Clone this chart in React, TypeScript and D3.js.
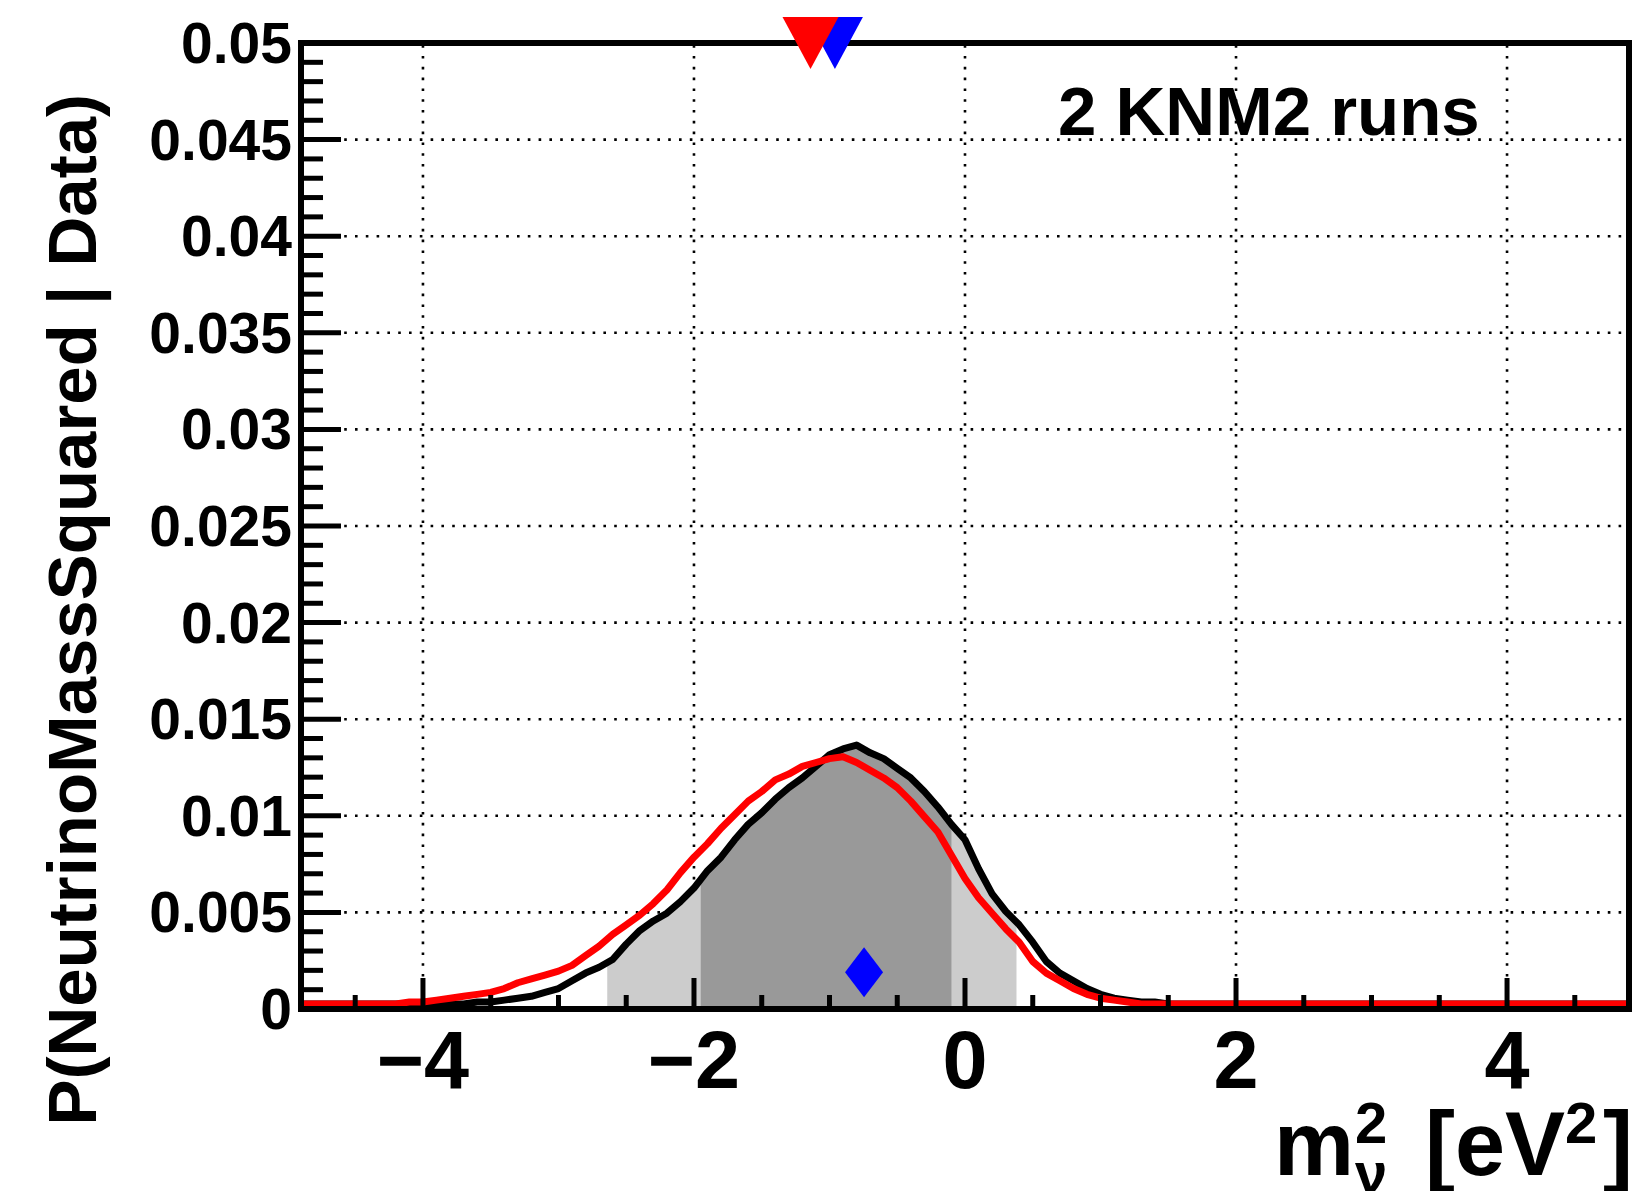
import React from "react";
import * as d3 from "d3";

const W = 1634;
const H = 1191;

// bin centres of m^2 (eV^2)
const mSquared = [
  -4.2, -4.1, -4.0, -3.9, -3.8, -3.7, -3.6, -3.5, -3.4, -3.3, -3.2, -3.1, -3.0, -2.9, -2.8, -2.7,
  -2.6, -2.5, -2.4, -2.3, -2.2, -2.1, -2.0, -1.9, -1.8, -1.7, -1.6, -1.5, -1.4, -1.3, -1.2, -1.1,
  -1.0, -0.9, -0.8, -0.7, -0.6, -0.5, -0.4, -0.3, -0.2, -0.1, 0.0, 0.1, 0.2, 0.3, 0.4, 0.5,
  0.6, 0.7, 0.8, 0.9, 1.0, 1.1, 1.2, 1.3, 1.4, 1.5,
];

// posterior (black histogram)
const blackPosterior = [
  0, 0, 0, 0, 0, 0, 0.0001, 0.0001, 0.0002, 0.0003, 0.0004, 0.0006, 0.0008, 0.0012, 0.0016, 0.0019,
  0.0023, 0.0031, 0.0038, 0.0043, 0.0047, 0.0053, 0.006, 0.0069, 0.0076, 0.0085, 0.0093, 0.0099, 0.0106, 0.0112, 0.0117, 0.0123,
  0.0129, 0.0132, 0.0134, 0.013, 0.0127, 0.0122, 0.0117, 0.011, 0.0102, 0.0093, 0.0085, 0.007, 0.0057, 0.0048, 0.0041, 0.0032,
  0.0022, 0.0016, 0.0012, 0.0008, 0.0005, 0.0003, 0.0002, 0.0001, 0.0001, 0,
];

// comparison posterior (red histogram)
const redPosterior = [
  0, 0.0001, 0.0001, 0.0002, 0.0003, 0.0004, 0.0005, 0.0006, 0.0008, 0.0011, 0.0013, 0.0015, 0.0017, 0.002, 0.0025, 0.003,
  0.0036, 0.0041, 0.0046, 0.0052, 0.0059, 0.0068, 0.0076, 0.0083, 0.0091, 0.0098, 0.0105, 0.011, 0.0116, 0.0119, 0.0123, 0.0125,
  0.0127, 0.0128, 0.0125, 0.0121, 0.0117, 0.0112, 0.0105, 0.0097, 0.0089, 0.0077, 0.0065, 0.0055, 0.0047, 0.0039, 0.0032, 0.0022,
  0.0016, 0.0012, 0.0008, 0.0005, 0.0003, 0.0002, 0.0001, 0, 0, 0,
];

// credible intervals of the black posterior
const interval2 = [-2.64, 0.38];
const interval1 = [-1.95, -0.1];

// markers
const diamondMarker = { x: -0.745, y: 0.0019 };
const topMarkers = [
  { x: -0.96, color: "#0000ff" },
  { x: -1.14, color: "#ff0000" },
];

const xDomain = [-4.9, 4.9];
const yDomain = [0, 0.05];
const xMajorTicks = [-4, -2, 0, 2, 4];
const xTickLabels = ["\u22124", "\u22122", "0", "2", "4"];
const yMajorTicks = [0, 0.005, 0.01, 0.015, 0.02, 0.025, 0.03, 0.035, 0.04, 0.045, 0.05];
const yTickLabels = ["0", "0.005", "0.01", "0.015", "0.02", "0.025", "0.03", "0.035", "0.04", "0.045", "0.05"];

const annotation = "2 KNM2 runs";
const yTitle = "P(NeutrinoMassSquared | Data)";

const FONT = "'Liberation Sans', Arial, Helvetica, sans-serif";

export default function App() {
  const left = 301, right = 1629, top = 43, bottom = 1009;
  const x = d3.scaleLinear().domain(xDomain).range([left, right]);
  const y = d3.scaleLinear().domain(yDomain).range([bottom, top]);
  const lineLift = 5; // thick ROOT histogram lines sit just above the axis

  const withEdges = (vals: number[]) => {
    const pts: [number, number][] = mSquared.map((m, i) => [m, vals[i]]);
    return [[xDomain[0], 0] as [number, number], ...pts, [xDomain[1], 0] as [number, number]];
  };
  const blackPts = withEdges(blackPosterior);
  const redPts = withEdges(redPosterior);

  const line = d3
    .line<[number, number]>()
    .x((d) => x(d[0]))
    .y((d) => y(d[1]) - lineLift);

  const interp = (pts: [number, number][], xv: number) => {
    const i = d3.bisector((d: [number, number]) => d[0]).left(pts, xv);
    if (i <= 0) return pts[0][1];
    if (i >= pts.length) return pts[pts.length - 1][1];
    const a = pts[i - 1], b = pts[i];
    const t = (xv - a[0]) / (b[0] - a[0]);
    return a[1] + t * (b[1] - a[1]);
  };

  const areaBetween = (lo: number, hi: number) => {
    const inner = blackPts.filter((p) => p[0] > lo && p[0] < hi);
    const pts: [number, number][] = [[lo, interp(blackPts, lo)], ...inner, [hi, interp(blackPts, hi)]];
    return d3
      .area<[number, number]>()
      .x((d) => x(d[0]))
      .y0(y(0))
      .y1((d) => y(d[1]) - lineLift)(pts) as string;
  };

  const xMinor = d3.range(-4.5, 4.9, 0.5).filter((v) => !xMajorTicks.some((m) => Math.abs(m - v) < 1e-6));
  const yMinor = d3.range(0, 0.05001, 0.001).filter((v) => !yMajorTicks.some((m) => Math.abs(m - v) < 1e-7));

  const dot = { stroke: "#000", strokeWidth: 2.6, strokeDasharray: "2.6 8.2", fill: "none" };

  const triW = 28, triH = 26;
  const diaW = 19, diaH = 25;

  return (
    <svg
      width={W}
      height={H}
      viewBox={`0 0 ${W} ${H}`}
      style={{ position: "absolute", left: 0, top: 0, background: "#fff" }}
      fontFamily={FONT}
      fontWeight="bold"
    >
      <rect x={0} y={0} width={W} height={H} fill="#fff" />

      {/* grid */}
      {xMajorTicks.map((t) => (
        <line key={"gx" + t} x1={x(t)} x2={x(t)} y1={bottom} y2={top} style={dot} />
      ))}
      {yMajorTicks.slice(1, -1).map((t) => (
        <line key={"gy" + t} x1={left} x2={right} y1={y(t)} y2={y(t)} style={dot} />
      ))}

      {/* credible interval shading */}
      <path d={areaBetween(interval2[0], interval2[1])} fill="#cccccc" />
      <path d={areaBetween(interval1[0], interval1[1])} fill="#999999" />

      {/* histograms */}
      <path d={line(blackPts) as string} fill="none" stroke="#000" strokeWidth={7} strokeLinejoin="round" />
      <path d={line(redPts) as string} fill="none" stroke="#ff0000" strokeWidth={7} strokeLinejoin="round" />

      {/* diamond */}
      <path
        d={`M${x(diamondMarker.x)},${y(diamondMarker.y) - diaH} L${x(diamondMarker.x) + diaW},${y(diamondMarker.y)} L${x(diamondMarker.x)},${y(diamondMarker.y) + diaH} L${x(diamondMarker.x) - diaW},${y(diamondMarker.y)} Z`}
        fill="#0000ff"
      />

      {/* axis ticks */}
      {xMajorTicks.map((t) => (
        <line key={"xt" + t} x1={x(t)} x2={x(t)} y1={bottom} y2={bottom - 31} stroke="#000" strokeWidth={5} />
      ))}
      {xMinor.map((t) => (
        <line key={"xm" + t} x1={x(t)} x2={x(t)} y1={bottom} y2={bottom - 14} stroke="#000" strokeWidth={5} />
      ))}
      {yMajorTicks.map((t) => (
        <line key={"yt" + t} x1={left} x2={left + 40} y1={y(t)} y2={y(t)} stroke="#000" strokeWidth={5} />
      ))}
      {yMinor.map((t) => (
        <line key={"ym" + t.toFixed(3)} x1={left} x2={left + 22} y1={y(t)} y2={y(t)} stroke="#000" strokeWidth={5} />
      ))}

      {/* frame */}
      <rect x={left} y={top} width={right - left} height={bottom - top} fill="none" stroke="#000" strokeWidth={6} />

      {/* top markers */}
      {topMarkers.map((m, i) => (
        <path
          key={"tm" + i}
          d={`M${x(m.x) - triW},${y(0.05) - triH} L${x(m.x) + triW},${y(0.05) - triH} L${x(m.x)},${y(0.05) + triH} Z`}
          fill={m.color}
        />
      ))}

      {/* tick labels */}
      {xMajorTicks.map((t, i) => (
        <text key={"xl" + t} x={x(t)} y={1088} fontSize={81} textAnchor="middle">
          {xTickLabels[i]}
        </text>
      ))}
      {yMajorTicks.map((t, i) => (
        <text key={"yl" + t} x={292} y={y(t) + 20} fontSize={57} textAnchor="end">
          {yTickLabels[i]}
        </text>
      ))}

      {/* annotation */}
      <text x={1058} y={135} fontSize={69}>
        {annotation}
      </text>

      {/* y title */}
      <text transform="translate(96,94) rotate(-90)" fontSize={69} textAnchor="end">
        {yTitle}
      </text>

      {/* x title */}
      <text x={1274} y={1175} fontSize={90}>m</text>
      <text x={1355} y={1143} fontSize={58}>2</text>
      <text x={1355} y={1193} fontSize={58}>ν</text>
      <text x={1425} y={1175} fontSize={90}>[eV</text>
      <text x={1565} y={1143} fontSize={58}>2</text>
      <text x={1603} y={1175} fontSize={90}>]</text>
    </svg>
  );
}
